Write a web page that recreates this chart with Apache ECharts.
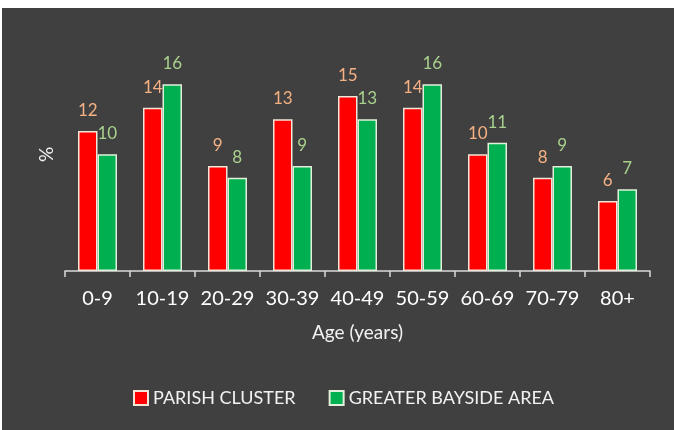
<!DOCTYPE html>
<html>
<head>
<meta charset="utf-8">
<script src="https://cdn.jsdelivr.net/npm/echarts@6/dist/echarts.min.js"></script>
<style>
html,body{margin:0;padding:0;background:#ffffff;}
#chart{position:absolute;left:2px;top:8px;width:672px;height:422px;background:#404040;}
</style>
</head>
<body>
<div id="chart"></div>
<script>
const categories = ['0-9','10-19','20-29','30-39','40-49','50-59','60-69','70-79','80+'];
const parishCluster = [12,14,9,13,15,14,10,8,6];
const greaterBayside = [10,16,8,9,13,16,11,9,7];
const seriesNames = ['PARISH CLUSTER','GREATER BAYSIDE AREA'];

const FONT = 'Lato, "Open Sans", sans-serif';
const chart = echarts.init(document.getElementById('chart'), null, {renderer:'canvas'});
chart.setOption({
  backgroundColor: '#404040',
  animation: false,
  textStyle: {fontFamily: FONT},
  grid: {left: 63, right: 24, top: 29.7, bottom: 159, containLabel: false},
  legend: {
    left: 131, top: 381, padding: 0,
    itemWidth: 14, itemHeight: 14, itemGap: 33,
    textStyle: {color: '#f2f2f2', fontSize: 18, fontFamily: FONT},
    data: seriesNames.map(n => ({name: n, icon: 'rect'}))
  },
  xAxis: {
    type: 'category',
    data: categories,
    name: 'Age (years)',
    nameLocation: 'middle',
    nameGap: 52,
    nameTextStyle: {color: '#f2f2f2', fontSize: 19, fontFamily: FONT},
    axisLine: {lineStyle: {color: '#d9d9d9', width: 1.5}},
    axisTick: {show: true, length: 6, lineStyle: {color: '#d9d9d9', width: 1.5}},
    axisLabel: {color: '#ffffff', fontSize: 20, margin: 18, fontFamily: FONT, interval: 0, hideOverlap: false}
  },
  yAxis: {
    type: 'value',
    min: 0, max: 20,
    name: '%',
    nameLocation: 'middle',
    nameRotate: 90,
    nameGap: 9,
    nameTextStyle: {color: '#f2f2f2', fontSize: 19, fontFamily: FONT},
    axisLine: {show: false},
    axisTick: {show: false},
    axisLabel: {show: false},
    splitLine: {show: false}
  },
  series: [
    {
      name: seriesNames[0], type: 'bar', data: parishCluster,
      barGap: '0%', barCategoryGap: '40%',
      itemStyle: {color: '#ff0000', borderColor: '#f2e6d9', borderWidth: 1.5},
      label: {show: true, position: 'top', distance: 12, color: '#f4b183', fontSize: 17, fontFamily: FONT}
    },
    {
      name: seriesNames[1], type: 'bar', data: greaterBayside,
      barGap: '0%', barCategoryGap: '40%',
      itemStyle: {color: '#00b050', borderColor: '#e2efda', borderWidth: 1.5},
      label: {show: true, position: 'top', distance: 12, color: '#a9d18e', fontSize: 17, fontFamily: FONT}
    }
  ]
});
</script>
</body>
</html>
